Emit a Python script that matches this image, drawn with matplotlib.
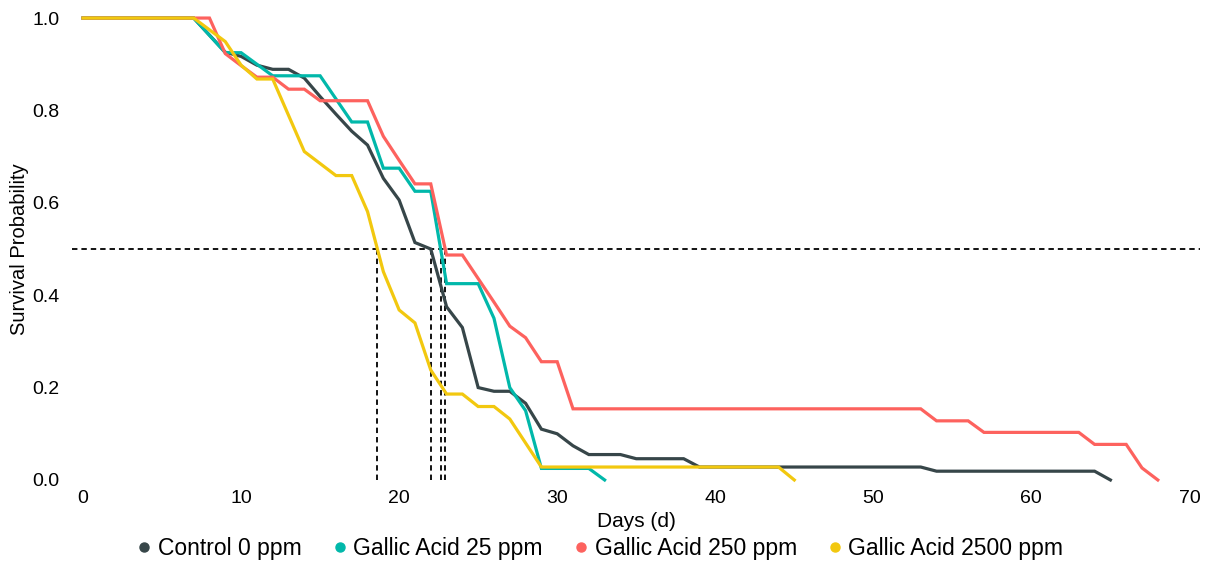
import numpy as np
import matplotlib
matplotlib.use("Agg")
import matplotlib.pyplot as plt
from matplotlib.lines import Line2D

plt.rcParams['font.family'] = ['Liberation Sans', 'DejaVu Sans']

# Kaplan-Meier style survival curves, one per treatment
labels = ["Control 0 ppm", "Gallic Acid 25 ppm", "Gallic Acid 250 ppm", "Gallic Acid 2500 ppm"]
colors = ["#374649", "#01B8AA", "#FD625E", "#F2C80F"]

days_ctrl = [0, 7, 8, 9, 10, 11, 12, 13, 14, 15, 16, 17, 18, 19, 20, 21, 22, 23, 24, 25,
             26, 27, 28, 29, 30, 31, 32, 34, 35, 38, 39, 53, 54, 64, 65]
surv_ctrl = [1.0, 1.0, 0.963, 0.926, 0.917, 0.898, 0.889, 0.889, 0.870, 0.830, 0.792, 0.755,
             0.725, 0.653, 0.606, 0.514, 0.500, 0.375, 0.330, 0.200, 0.192, 0.192, 0.166,
             0.110, 0.100, 0.074, 0.055, 0.055, 0.046, 0.046, 0.028, 0.028, 0.019, 0.019, 0.0]

days_25 = [0, 7, 9, 10, 12, 15, 17, 18, 19, 20, 21, 22, 23, 25, 26, 27, 28, 29, 32, 33]
surv_25 = [1.0, 1.0, 0.925, 0.925, 0.875, 0.875, 0.775, 0.775, 0.675, 0.675, 0.625, 0.625,
           0.425, 0.425, 0.350, 0.200, 0.150, 0.025, 0.025, 0.0]

days_250 = [0, 8, 9, 10, 11, 12, 13, 14, 15, 18, 19, 20, 21, 22, 23, 24, 25, 26, 27, 28,
            29, 30, 31, 53, 54, 56, 57, 63, 64, 66, 67, 68]
surv_250 = [1.0, 1.0, 0.923, 0.897, 0.872, 0.872, 0.846, 0.846, 0.821, 0.821, 0.744, 0.692,
            0.641, 0.641, 0.487, 0.487, 0.436, 0.385, 0.333, 0.308, 0.256, 0.256, 0.154,
            0.154, 0.128, 0.128, 0.103, 0.103, 0.077, 0.077, 0.026, 0.0]

days_2500 = [0, 7, 9, 10, 11, 12, 14, 16, 17, 18, 19, 20, 21, 22, 23, 24, 25, 26, 27, 29, 44, 45]
surv_2500 = [1.0, 1.0, 0.949, 0.898, 0.868, 0.868, 0.711, 0.659, 0.659, 0.581, 0.451, 0.368,
             0.340, 0.238, 0.186, 0.186, 0.159, 0.159, 0.132, 0.028, 0.028, 0.0]

series = [(days_ctrl, surv_ctrl), (days_25, surv_25), (days_250, surv_250), (days_2500, surv_2500)]

x_ticks = [0, 10, 20, 30, 40, 50, 60, 70]
y_ticks = [0.0, 0.2, 0.4, 0.6, 0.8, 1.0]


def median_day(d, s):
    # first day where the curve reaches 0.5, linearly interpolated
    d = np.asarray(d, float)
    s = np.asarray(s, float)
    i = np.argmax(s <= 0.5)
    if s[i] == 0.5 or i == 0:
        return d[i]
    return d[i - 1] + (s[i - 1] - 0.5) / (s[i - 1] - s[i]) * (d[i] - d[i - 1])


fig = plt.figure(figsize=(12.2, 5.64), dpi=100)
ax = fig.add_axes([0.059, 0.149, 0.925, 0.819])

dash = (0, (3, 2.2))
ax.axhline(0.5, color="black", lw=1.3, linestyle=dash, zorder=1)
for d, s in series:
    m = median_day(d, s)
    ax.plot([m, m], [0, 0.5], color="black", lw=1.3, linestyle=dash, zorder=1)

for (d, s), c in zip(series, colors):
    ax.plot(d, s, color=c, lw=2.3, solid_joinstyle="miter", clip_on=False, zorder=3)

ax.set_xlim(-0.7, 70.7)
ax.set_ylim(0, 1.0)
ax.set_xticks(x_ticks)
ax.set_yticks(y_ticks)
ax.set_yticklabels([f"{v:.1f}" for v in y_ticks])
ax.tick_params(length=0, labelsize=14)
ax.tick_params(axis="x", pad=7)
ax.tick_params(axis="y", pad=9)
for sp in ax.spines.values():
    sp.set_visible(False)

ax.set_xlabel("Days (d)", fontsize=15, labelpad=4)
ax.set_ylabel("Survival Probability", fontsize=14.5, labelpad=2)

handles = [Line2D([], [], color=c, marker="o", linestyle="none", markersize=6.5) for c in colors]
fig.legend(handles, labels, loc="center", bbox_to_anchor=(601 / 1220, 1 - 549 / 564),
           ncol=4, frameon=False, fontsize=16.5, handlelength=0.5, handletextpad=0.35,
           columnspacing=1.4, borderaxespad=0)

fig.savefig("out.png", dpi=100)
